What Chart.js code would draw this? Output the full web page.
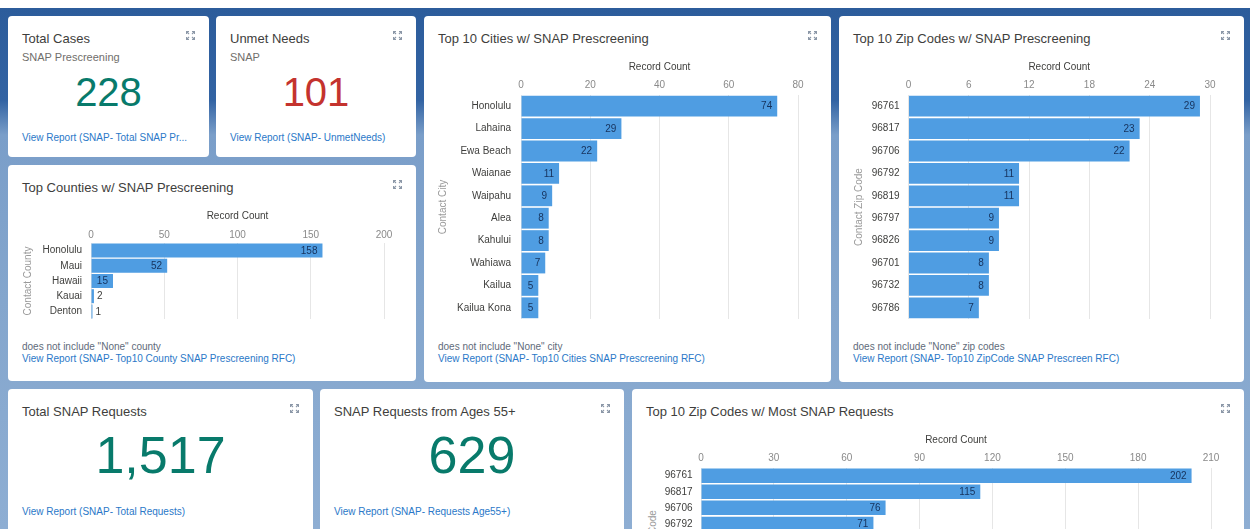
<!DOCTYPE html>
<html>
<head>
<meta charset="utf-8">
<script src="https://cdn.jsdelivr.net/npm/chart.js@4.4.1/dist/chart.umd.min.js"></script>
<style>
  html, body { margin: 0; padding: 0; }
  body {
    width: 1250px; height: 529px; overflow: hidden; position: relative;
    font-family: "Liberation Sans", Arial, sans-serif;
    background: linear-gradient(to bottom, #ffffff 0px, #ffffff 8px, #2c5c9b 8px, #3263a3 100px, #7a9ec9 135px, #84a6cd 300px, #8eaed3 529px);
  }
  .card { position: absolute; background: #fff; border-radius: 4px; overflow: hidden; }
  .t { position: absolute; white-space: nowrap; line-height: 1; }
  .title { font-size: 13px; color: #3e3e3c; left: 14px; top: 16px; }
  .sub { font-size: 11px; color: #706e6b; left: 14px; }
  .link { font-size: 10px; color: #2a78c8; left: 14px; }
  .note { font-size: 10px; color: #5f6b7a; left: 14px; }
  .big { left: 0; right: 0; text-align: center; }
  .icon { position: absolute; width: 9px; height: 9px; top: 15px; }
  canvas { position: absolute; }
</style>
</head>
<body>
<script>
// KPI tiles
const totalCases = 228;
const unmetNeeds = 101;
const totalRequests = 1517;
const requestsAge55 = 629;

// Top counties
const countyLabels = ['Honolulu', 'Maui', 'Hawaii', 'Kauai', 'Denton'];
const countyCounts = [158, 52, 15, 2, 1];
const countyTicks = [0, 50, 100, 150, 200];

// Top 10 cities
const cityLabels = ['Honolulu', 'Lahaina', 'Ewa Beach', 'Waianae', 'Waipahu', 'Alea', 'Kahului', 'Wahiawa', 'Kailua', 'Kailua Kona'];
const cityCounts = [74, 29, 22, 11, 9, 8, 8, 7, 5, 5];
const cityTicks = [0, 20, 40, 60, 80];

// Top 10 zip codes (prescreening)
const zipLabels = ['96761', '96817', '96706', '96792', '96819', '96797', '96826', '96701', '96732', '96786'];
const zipCounts = [29, 23, 22, 11, 11, 9, 9, 8, 8, 7];
const zipTicks = [0, 6, 12, 18, 24, 30];

// Top zip codes w/ most requests (only the rows visible in the window)
const reqZipLabels = ['96761', '96817', '96706', '96792'];
const reqZipCounts = [202, 115, 76, 71];
const reqZipTicks = [0, 30, 60, 90, 120, 150, 180, 210];

const BAR = '#4f9de2';
Chart.defaults.font.family = '"Liberation Sans", Arial, sans-serif';
Chart.defaults.font.size = 10;
Chart.defaults.animation = false;

const ICON = '<svg class="icon" viewBox="0 0 9 9"><g stroke="#8c98a8" stroke-width="1.1" fill="none">' +
  '<path d="M0.5 3V0.5H3M0.5 0.5L3 3"/><path d="M8.5 3V0.5H6M8.5 0.5L6 3"/>' +
  '<path d="M0.5 6V8.5H3M0.5 8.5L3 6"/><path d="M8.5 6V8.5H6M8.5 8.5L6 6"/></g></svg>';

function card(x, y, w, h, html) {
  const d = document.createElement('div');
  d.className = 'card';
  d.style.cssText = `left:${x}px;top:${y}px;width:${w}px;height:${h}px`;
  d.innerHTML = html + ICON.replace('class="icon"', `class="icon" style="left:${w - 23}px"`);
  document.body.appendChild(d);
  return d;
}

// value labels at the end of each bar (inside when it fits)
const valueLabels = {
  id: 'valueLabels',
  afterDatasetsDraw(chart) {
    const ctx = chart.ctx;
    const vals = chart.data.datasets[0].data;
    ctx.save();
    ctx.font = '10px "Liberation Sans", Arial, sans-serif';
    ctx.textBaseline = 'middle';
    chart.getDatasetMeta(0).data.forEach((bar, i) => {
      const txt = String(vals[i]);
      const w = ctx.measureText(txt).width;
      if (bar.x - bar.base > w + 8) {
        ctx.fillStyle = '#16325c';
        ctx.textAlign = 'right';
        ctx.fillText(txt, bar.x - 5, bar.y + 0.5);
      } else {
        ctx.fillStyle = '#3e3e3c';
        ctx.textAlign = 'left';
        ctx.fillText(txt, bar.x + 3, bar.y + 0.5);
      }
    });
    ctx.restore();
  }
};

function barChart(x, y, w, h, labels, values, ticks, o) {
  const cv = document.createElement('canvas');
  cv.width = w; cv.height = h;
  cv.style.left = x + 'px'; cv.style.top = y + 'px';
  document.body.appendChild(cv);
  return new Chart(cv, {
    type: 'bar',
    data: {
      labels: labels,
      datasets: [{ data: values, backgroundColor: BAR, barPercentage: o.barPct, categoryPercentage: 1 }]
    },
    options: {
      indexAxis: 'y',
      responsive: false,
      layout: { padding: { left: 0, top: 0, right: 16, bottom: 3 } },
      plugins: { legend: { display: false }, tooltip: { enabled: false } },
      scales: {
        x: {
          position: 'top',
          min: ticks[0], max: ticks[ticks.length - 1],
          afterBuildTicks: s => { s.ticks = ticks.map(v => ({ value: v })); },
          ticks: { color: '#8a8a8a', padding: o.xPad, maxRotation: 0 },
          grid: { color: '#e6e6e6', drawTicks: false },
          border: { display: false },
          title: { display: true, text: 'Record Count', color: '#3e3e3c', padding: 0 },
          afterFit: s => { s.height = o.xH; s.paddingLeft = 0; s.paddingRight = 0; }
        },
        y: {
          ticks: { color: '#3e3e3c', padding: o.yPad },
          grid: { display: false, drawTicks: false },
          border: { display: false },
          title: { display: !!o.yTitle, text: o.yTitle, color: '#9a9a9a', padding: 0 },
          afterFit: s => { s.width = o.yW; s.paddingTop = 0; s.paddingBottom = 0; }
        }
      }
    },
    plugins: [valueLabels]
  });
}

// ---- row 1 ----
card(8, 16, 201, 141,
  '<div class="t title">Total Cases</div>' +
  '<div class="t sub" style="top:35.7px">SNAP Prescreening</div>' +
  `<div class="t big" style="top:56px;font-size:40px;color:#087a6b">${totalCases}</div>` +
  '<div class="t link" style="top:116.5px">View Report (SNAP- Total SNAP Pr...</div>');

card(216, 16, 200, 141,
  '<div class="t title">Unmet Needs</div>' +
  '<div class="t sub" style="top:35.7px">SNAP</div>' +
  `<div class="t big" style="top:56px;font-size:40px;color:#c4332e">${unmetNeeds}</div>` +
  '<div class="t link" style="top:116.5px">View Report (SNAP- UnmetNeeds)</div>');

card(424, 16, 407, 366,
  '<div class="t title">Top 10 Cities w/ SNAP Prescreening</div>' +
  '<div class="t note" style="top:325.5px">does not include "None" city</div>' +
  '<div class="t link" style="top:337.5px">View Report (SNAP- Top10 Cities SNAP Prescreening RFC)</div>');

card(839, 16, 405, 366,
  '<div class="t title">Top 10 Zip Codes w/ SNAP Prescreening</div>' +
  '<div class="t note" style="top:325.5px">does not include "None" zip codes</div>' +
  '<div class="t link" style="top:337.5px">View Report (SNAP- Top10 ZipCode SNAP Prescreen RFC)</div>');

card(8, 165, 408, 216,
  '<div class="t title">Top Counties w/ SNAP Prescreening</div>' +
  '<div class="t note" style="top:176.5px">does not include "None" county</div>' +
  '<div class="t link" style="top:188.5px">View Report (SNAP- Top10 County SNAP Prescreening RFC)</div>');

// ---- row 2 ----
card(8, 389, 305, 150,
  '<div class="t title">Total SNAP Requests</div>' +
  `<div class="t big" style="top:40.3px;font-size:52px;color:#087a6b">${totalRequests.toLocaleString('en-US')}</div>` +
  '<div class="t link" style="top:117.5px">View Report (SNAP- Total Requests)</div>');

card(320, 389, 304, 150,
  '<div class="t title">SNAP Requests from Ages 55+</div>' +
  `<div class="t big" style="top:40.3px;font-size:52px;color:#087a6b">${requestsAge55}</div>` +
  '<div class="t link" style="top:117.5px">View Report (SNAP- Requests Age55+)</div>');

card(632, 389, 612, 150,
  '<div class="t title">Top 10 Zip Codes w/ Most SNAP Requests</div>' +
  '<div class="t" style="left:21px;top:159.6px;font-size:10px;color:#9a9a9a;transform:translate(-50%,-50%) rotate(-90deg)">Contact Zip Code</div>');

// ---- charts ----
barChart(22, 210, 378, 112, countyLabels, countyCounts, countyTicks,
  { xH: 33, yW: 69, xPad: 2, yPad: 9, barPct: 0.92, yTitle: 'Contact County' });
barChart(437, 61, 377, 261, cityLabels, cityCounts, cityTicks,
  { xH: 34, yW: 84, xPad: 4, yPad: 10, barPct: 0.93, yTitle: 'Contact City' });
barChart(853, 61, 373, 261, zipLabels, zipCounts, zipTicks,
  { xH: 34, yW: 55.5, xPad: 4, yPad: 9, barPct: 0.93, yTitle: 'Contact Zip Code' });
barChart(647, 434, 580, 101, reqZipLabels, reqZipCounts, reqZipTicks,
  { xH: 33.6, yW: 54, xPad: 3.3, yPad: 8.5, barPct: 0.9, yTitle: '' });
</script>
</body>
</html>
